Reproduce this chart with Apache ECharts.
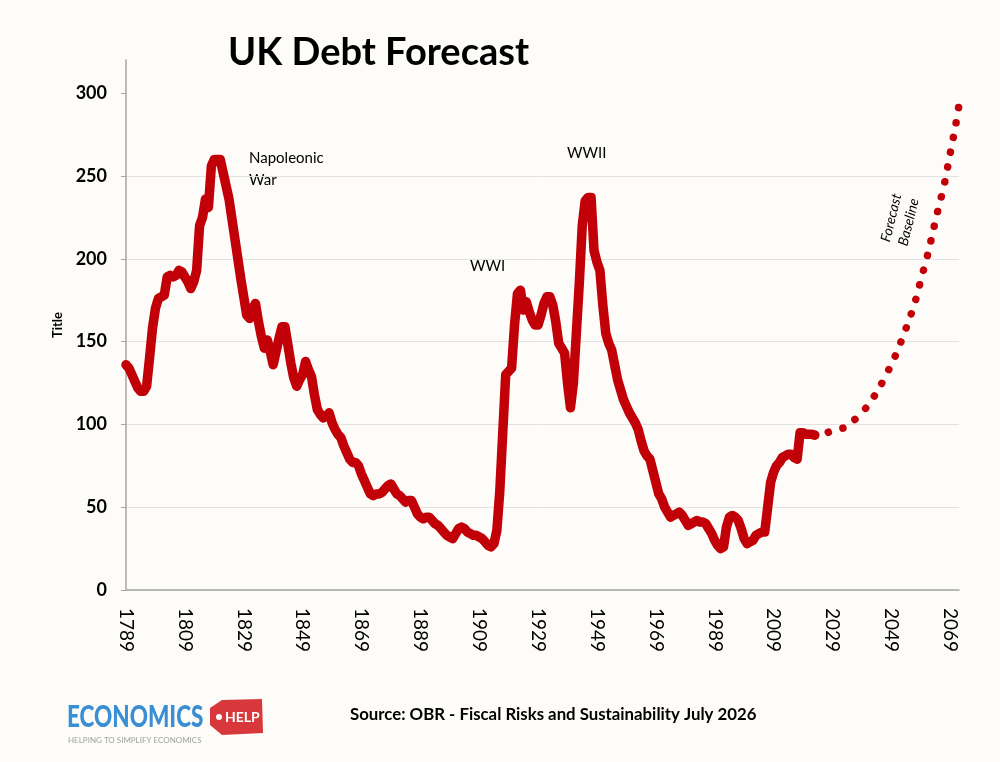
<!DOCTYPE html>
<html>
<head>
<meta charset="utf-8">
<script src="https://cdn.jsdelivr.net/npm/echarts@6/dist/echarts.min.js"></script>
<style>
  html, body { margin: 0; padding: 0; background: #fdfcf8; }
  #chart { width: 1000px; height: 762px; }
</style>
</head>
<body>
<div id="chart"></div>
<script>
// Debt as % of GDP
const firstYear = 1789;
const lastYear = 2072;

// 1789 .. 2023 (solid line)
const history = [
  136, 134, 130, 126, 122, 120, 120, 123, 140, 158,   // 1789-1798
  170, 176, 177, 178, 189, 190, 189, 190, 193, 192,   // 1799-1808
  189, 186, 182, 186, 193, 220, 225, 236, 231, 256,   // 1809-1818
  260, 260, 260, 252, 244, 236, 224, 212, 200, 188,   // 1819-1828
  177, 166, 164, 170, 173, 162, 153, 146, 151, 144,   // 1829-1838
  136, 144, 152, 159, 159, 148, 137, 128, 123, 127,   // 1839-1848
  130, 138, 133, 129, 118, 109, 106, 104, 105, 107,   // 1849-1858
  101, 97, 94, 92, 87, 83, 79, 77, 77, 75,            // 1859-1868
  70, 66, 62, 58, 57, 58, 58, 59, 61, 63,             // 1869-1878
  64, 61, 58, 57, 55, 53, 54, 54, 50, 46,             // 1879-1888
  44, 43, 44, 44, 42, 40, 39, 37, 35, 33,             // 1889-1898
  32, 31, 34, 37, 38, 37, 35, 34, 33, 33,             // 1899-1908
  32, 31, 29, 27, 26, 28, 36, 60, 95, 130,            // 1909-1918
  132, 134, 160, 179, 181, 169, 174, 168, 163, 160,   // 1919-1928
  160, 166, 173, 177, 177, 172, 162, 149, 146, 143,   // 1929-1938
  125, 110, 125, 155, 185, 220, 235, 237, 237, 205,   // 1939-1948
  198, 193, 172, 155, 149, 145, 136, 127, 121, 115,   // 1949-1958
  111, 107, 104, 101, 97, 90, 84, 81, 79, 72,         // 1959-1968
  65, 58, 55, 50, 47, 44, 45, 46, 47, 45,             // 1969-1978
  42, 39, 40, 41, 42, 41, 41, 40, 37, 34,             // 1979-1988
  30, 27, 25, 26, 38, 44, 45, 44, 42, 37,             // 1989-1998
  31, 28, 29, 30, 33, 34, 35, 35, 50, 65,             // 1999-2008
  71, 75, 77, 80, 81, 82, 82, 80, 79, 95,             // 2009-2018
  95, 94, 94, 94, 93.5                                 // 2019-2023
];

// 2023 .. 2072 (dotted forecast)
const forecastStart = 2023;
const forecast = [
  93.5, 94, 94.5, 95, 95, 95.5, 96, 96.5, 97, 97.5,           // 2023-2032
  98, 99, 100.5, 102, 103.5, 105, 107, 109, 111.5, 114,       // 2033-2042
  116.5, 119.5, 122.5, 125.5, 129, 132.5, 136.5, 140, 144, 148.5, // 2043-2052
  153.5, 158, 163, 168, 173.5, 180, 187, 193.5, 200, 207.5,   // 2053-2062
  215, 223, 230.5, 237.5, 245, 254, 263.5, 272.5, 282, 293    // 2063-2072
];

const yTicks = [0, 50, 100, 150, 200, 250, 300];

const years = [];
for (let y = firstYear; y <= lastYear; y++) years.push(String(y));

const forecastSeries = years.map(() => null);
forecast.forEach((v, i) => { forecastSeries[forecastStart - firstYear + i] = v; });

const RED = '#c20008';
const FONT = 'Lato, "Open Sans", sans-serif';

const chart = echarts.init(document.getElementById('chart'), null, { renderer: 'canvas' });
chart.setOption({
  backgroundColor: '#fdfcf8',
  animation: false,
  title: {
    text: 'UK Debt Forecast',
    left: 223, top: 29,
    textStyle: { fontFamily: FONT, fontSize: 38, fontWeight: 'bold', color: '#000' }
  },
  grid: { left: 126, right: 41, top: 60, bottom: 172 },
  xAxis: {
    type: 'category',
    data: years,
    boundaryGap: false,
    axisLine: { lineStyle: { color: '#a6a6a6', width: 1.5 } },
    axisTick: { show: false },
    axisLabel: {
      interval: 19, rotate: -90, margin: 18,
      fontFamily: FONT, fontSize: 19, color: '#000'
    },
    splitLine: { show: false }
  },
  yAxis: {
    type: 'value',
    min: 0, max: 320, interval: 50,
    name: 'Title',
    nameLocation: 'middle', nameGap: 61, nameRotate: 90,
    nameTextStyle: { fontFamily: FONT, fontSize: 13, fontWeight: 'bold', color: '#000' },
    axisLine: { show: true, lineStyle: { color: '#a6a6a6', width: 1.5 } },
    axisTick: { show: true, length: 5, customValues: yTicks, lineStyle: { color: '#a6a6a6' } },
    axisLabel: {
      customValues: yTicks, margin: 19,
      fontFamily: FONT, fontSize: 18, fontWeight: 'bold', color: '#000'
    },
    splitLine: { show: true, showMaxLine: false, lineStyle: { color: '#e2e2e2', width: 1 } }
  },
  series: [
    {
      name: 'History', type: 'line', data: history,
      showSymbol: false, smooth: false,
      lineStyle: { color: RED, width: 9.5, join: 'round', cap: 'round' }
    },
    {
      name: 'Forecast', type: 'line', data: forecastSeries,
      showSymbol: false, smooth: true,
      lineStyle: { color: RED, width: 7.5, type: [0.1, 15], cap: 'round', dashOffset: -14 }
    }
  ],
  graphic: [
    { type: 'text', left: 249, top: 147,
      style: { text: 'Napoleonic\nWar', fontFamily: FONT, fontSize: 15, lineHeight: 22, fill: '#000' } },
    { type: 'text', left: 470, top: 259,
      style: { text: 'WWI', fontFamily: FONT, fontSize: 15, fill: '#000' } },
    { type: 'text', left: 567, top: 146,
      style: { text: 'WWII', fontFamily: FONT, fontSize: 15, fill: '#000' } },
    { type: 'text', x: 900, y: 220, rotation: 1.33,
      style: { text: 'Forecast\nBaseline', fontFamily: FONT, fontStyle: 'italic', fontSize: 14,
               lineHeight: 18, fill: '#000', align: 'center', verticalAlign: 'middle' } },
    // logo
    { type: 'text', x: 67, y: 702, scaleX: 0.75,
      style: { text: 'ECONOMICS', fontFamily: FONT, fontSize: 30, fontWeight: 900, fill: '#3a8fd4' } },
    { type: 'polygon', shape: { points: [[210, 708], [222, 700], [262, 699], [263, 733], [222, 735], [210, 725]] },
      style: { fill: '#d8383c' } },
    { type: 'circle', shape: { cx: 219, cy: 717, r: 3 }, style: { fill: '#fff' } },
    { type: 'text', x: 225, y: 710,
      style: { text: 'HELP', fontFamily: FONT, fontSize: 14, fontWeight: 'bold', fill: '#fff' } },
    { type: 'text', x: 68, y: 736,
      style: { text: 'HELPING TO SIMPLIFY ECONOMICS', fontFamily: FONT, fontSize: 8, fill: '#a0a0a0' } },
    { type: 'text', left: 350, top: 706,
      style: { text: 'Source: OBR - Fiscal Risks and Sustainability July 2026', fontFamily: FONT,
               fontSize: 16.8, fontWeight: 'bold', fill: '#000' } }
  ]
});
</script>
</body>
</html>
